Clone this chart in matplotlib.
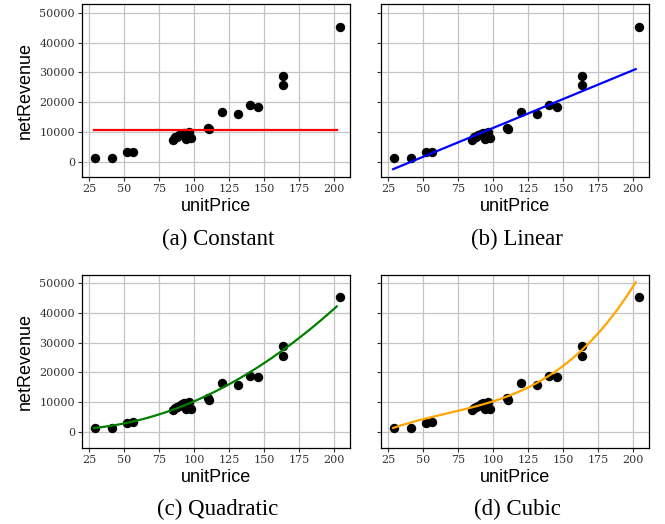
import numpy as np
import matplotlib
matplotlib.use("Agg")
import matplotlib.pyplot as plt

# data (same points in every panel)
unit_price = [29, 41, 52, 56.5, 85, 86, 87.5, 89, 91, 92.5, 94, 95, 96, 97.5,
              110, 110.5, 120, 131.5, 140, 146, 163.5, 163.5, 204]
net_revenue = [1340, 1340, 3100, 3300, 7400, 8100, 8300, 8800, 9300, 9700, 7700,
               9200, 10100, 7800, 11400, 10800, 16600, 15900, 18900, 18500,
               28800, 25700, 45300]

# fitted models, coefficients (highest power first)
fit_range = [28.5, 202]
fits = {
    "(a) Constant": ([10650], "#FF0000"),
    "(b) Linear": ([194, -8090], "#0000FF"),
    "(c) Quadratic": ([1.0806, -13.5, 842], "#008000"),
    "(d) Cubic": ([0.011797, -2.358, 267.14, -4631], "#FFA500"),
}

x_ticks = [25, 50, 75, 100, 125, 150, 175, 200]
y_ticks = [0, 10000, 20000, 30000, 40000, 50000]

fig = plt.figure(figsize=(6.65, 5.24), dpi=100)
W, H = 665, 524
boxes = [(82, 4.3), (381, 4.3), (82, 274.7), (381, 274.7)]
aw, ah = 268, 173

xs = np.linspace(fit_range[0], fit_range[1], 200)
for (left, top), (title, (coef, col)) in zip(boxes, fits.items()):
    ax = fig.add_axes([left / W, 1 - (top + ah) / H, aw / W, ah / H])
    ax.scatter(unit_price, net_revenue, s=46, color="black", zorder=3, linewidths=0)
    ax.plot(xs, np.polyval(coef, xs), color=col, lw=1.6, zorder=4)
    ax.set_xlim(19.8, 211.5)
    ax.set_ylim(-5300, 52900)
    ax.set_xticks(x_ticks)
    ax.set_yticks(y_ticks)
    ax.grid(True, color="#c4c4c4", lw=0.9)
    ax.set_axisbelow(True)
    for sp in ax.spines.values():
        sp.set_color("black")
        sp.set_linewidth(0.9)
    ax.tick_params(length=3, width=0.8, color="#333333", labelcolor="#333333",
                   labelsize=8, pad=2)
    for lab in ax.get_xticklabels() + ax.get_yticklabels():
        lab.set_family("DejaVu Serif")
    ax.set_xlabel("unitPrice", fontsize=13, family="Liberation Sans", labelpad=3)
    if left < 200:
        ax.set_ylabel("netRevenue", fontsize=13, family="Liberation Sans", labelpad=4)
    else:
        ax.set_yticklabels([])
    fig.text((left + aw / 2 + 2) / W, 1 - (top + 235) / H, title,
             ha="center", va="center", fontsize=16.5, family="Liberation Serif")

fig.savefig("out.png", dpi=100)
